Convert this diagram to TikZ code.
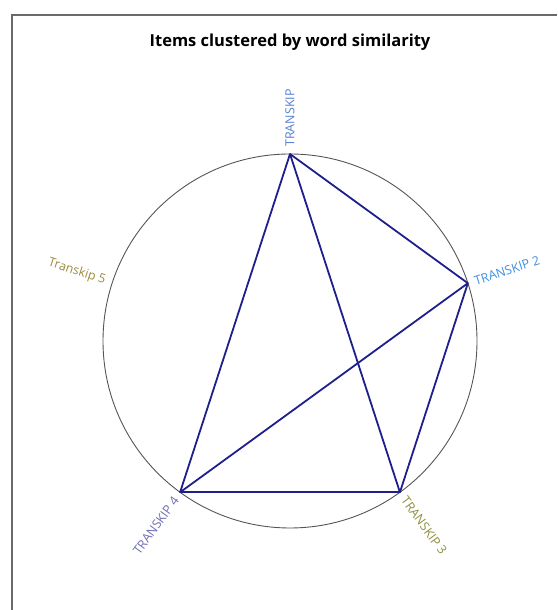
\documentclass[tikz,border=0pt]{standalone}
\usepackage{fontspec}
\setmainfont{Open Sans}
\usepackage{tikz}
\usetikzlibrary{positioning}
\definecolor{edgenavy}{HTML}{1F1F8C}
\definecolor{ringgrey}{HTML}{555555}
\definecolor{framegrey}{HTML}{6A6A6A}
\definecolor{tkblue}{HTML}{5580D2}
\definecolor{tksky}{HTML}{3F8FE0}
\definecolor{tkolive}{HTML}{8E8E40}
\definecolor{tkslate}{HTML}{6E6EB4}
\definecolor{tkbrass}{HTML}{9C8A3E}

\begin{document}
\begin{tikzpicture}[x=1pt, y=1pt,
  lbl/.style={inner sep=1pt, font=\fontsize{12.5}{14}\selectfont},
  v/.style={circle, inner sep=0pt, minimum size=0pt},
  e/.style={edgenavy, line width=1.8pt, line cap=round}]
\useasboundingbox (0,0) rectangle (557,610);
\draw[framegrey, line width=1.5pt] (12,0) -- (12,595) -- (557,595);
\node[font=\bfseries\fontsize{16.5}{19}\selectfont] (title) at (290,568) {Items clustered by word similarity};
\coordinate (c) at (290,269);
\draw[ringgrey, line width=0.9pt] (c) circle[radius=187pt];
% items on the ring
\node[v] (k1) at ([shift={(90:187pt)}]c) {};
\node[v] (k2) at ([shift={(18:187pt)}]c) {};
\node[v] (k3) at ([shift={(-54:187pt)}]c) {};
\node[v] (k4) at ([shift={(-126:187pt)}]c) {};
\node[v] (k5) at ([shift={(162:187pt)}]c) {};
\node[lbl, tkblue, rotate=90, anchor=west] (n1) at ([shift={(90:193pt)}]c) {TRANSKIP};
\node[lbl, tksky, rotate=18, anchor=west] (n2) at ([shift={(18:193pt)}]c) {TRANSKIP 2};
\node[lbl, tkolive, rotate=-54, anchor=west] (n3) at ([shift={(-54:193pt)}]c) {TRANSKIP 3};
\node[lbl, tkslate, rotate=54, anchor=east] (n4) at ([shift={(-126:193pt)}]c) {TRANSKIP 4};
\node[lbl, tkbrass, rotate=-18, anchor=east] (n5) at ([shift={(162:193pt)}]c) {Transkip 5};
% links
\draw[e] (k1)--(k2); \draw[e] (k1)--(k3); \draw[e] (k1)--(k4);
\draw[e] (k2)--(k3); \draw[e] (k2)--(k4); \draw[e] (k3)--(k4);
\end{tikzpicture}
\end{document}
